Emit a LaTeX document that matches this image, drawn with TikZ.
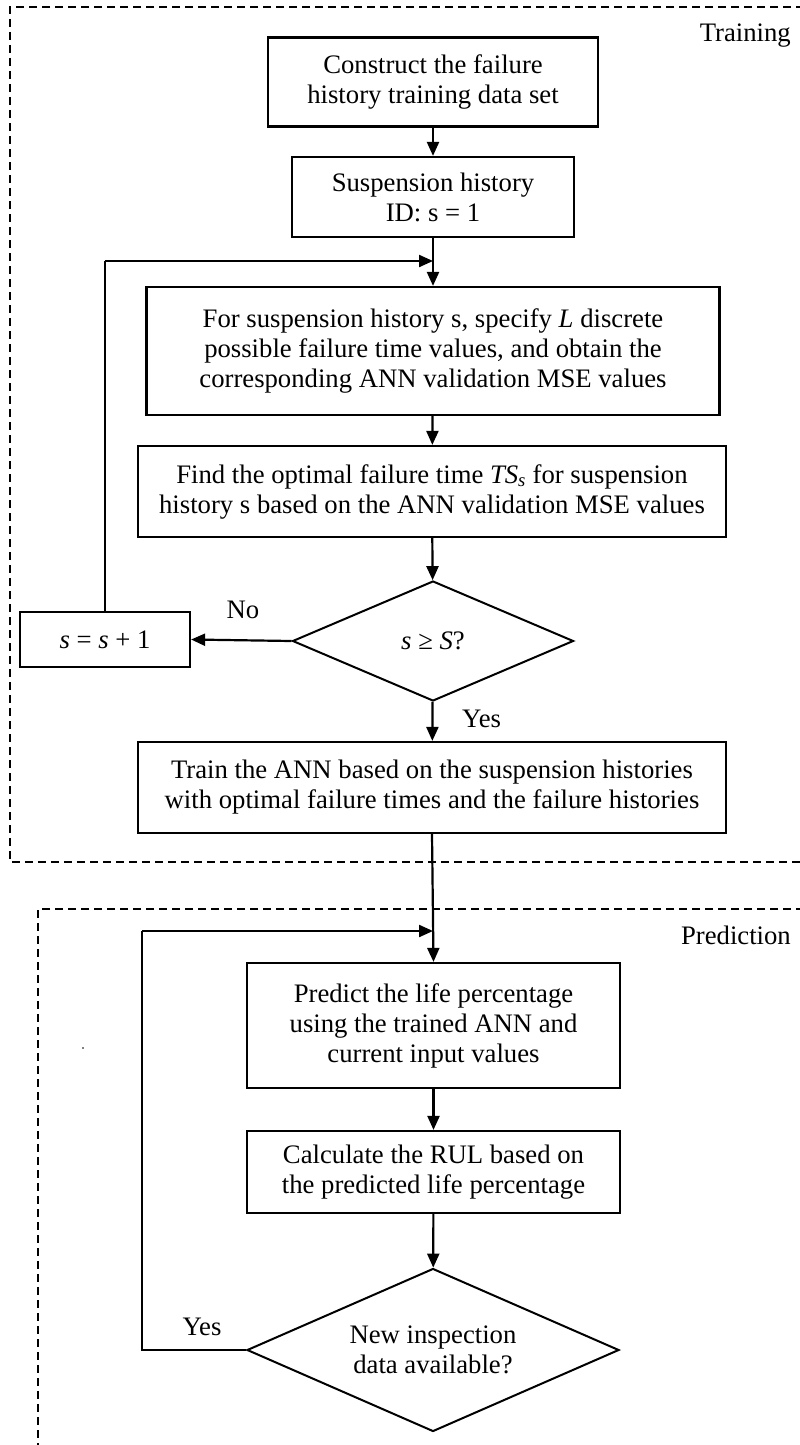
\documentclass[tikz,border=0pt]{standalone}
\usepackage{fontspec}
\setmainfont{Liberation Serif}
\usetikzlibrary{shapes.geometric,arrows.meta}

\begin{document}
\begin{tikzpicture}[x=1pt,y=-1pt,
  every node/.style={font=\fontsize{26.7}{30}\selectfont},
  box/.style={draw, line width=2.2pt, rectangle, align=center, inner sep=0pt},
  decision/.style={draw, line width=2pt, diamond, align=center, inner sep=0pt},
  flow/.style={line width=2.2pt, -{Triangle[length=14pt,width=12pt]}},
  link/.style={line width=2.2pt},
  frame/.style={line width=1.4pt, dash pattern=on 8pt off 5pt},
  tag/.style={inner sep=0pt}]

\useasboundingbox (0,0) rectangle (800,1445);
\clip (0,0) rectangle (800,1445);

% phase frames
\draw[frame] (830,7) -- (10,7) -- (10,862) -- (830,862);
\draw[frame] (830,909) -- (38,909) -- (38,1470);
\node[tag, anchor=east] (ttrain) at (791,36) {Training};
\node[tag, anchor=east] (tpred) at (791,935) {Prediction};

% training phase
\node[box, minimum width=330pt, minimum height=89pt] (b1) at (433,82)
  {Construct the failure\\history training data set};
\node[box, minimum width=282pt, minimum height=80pt] (b2) at (433,197)
  {Suspension history\\ID: s = 1};
\node[box, minimum width=573pt, minimum height=128pt] (b3) at (433,351)
  {For suspension history s, specify \textit{L} discrete\\possible failure time values, and obtain the\\corresponding ANN validation MSE values};
\node[box, minimum width=588pt, minimum height=91pt] (b4) at (432,491.5)
  {Find the optimal failure time \textit{TS}\textsubscript{\textit{s}} for suspension\\history s based on the ANN validation MSE values};
\node[decision, minimum width=281pt, minimum height=120pt, aspect=2.34] (d1) at (433,641)
  {\textit{s} ≥ \textit{S}?};
\node[box, minimum width=170pt, minimum height=55pt] (inc) at (105,639.5)
  {\textit{s} = \textit{s} + 1};
\node[box, minimum width=588pt, minimum height=91pt] (b5) at (432,787.5)
  {Train the ANN based on the suspension histories\\with optimal failure times and the failure histories};

% prediction phase
\node[box, minimum width=373pt, minimum height=125pt] (b6) at (433.5,1025.5)
  {Predict the life percentage\\using the trained ANN and\\current input values};
\node[box, minimum width=373pt, minimum height=82pt] (b7) at (433.5,1172)
  {Calculate the RUL based on\\the predicted life percentage};
\node[decision, minimum width=372pt, minimum height=163pt, aspect=2.28] (d2) at (433,1350)
  {New inspection\\data available?};

% junctions of the loops
\coordinate (j1) at (433,261);
\coordinate (k1) at (105,261);
\coordinate (j2) at (433,931);
\coordinate (k2) at (142,931);
\coordinate (k3) at (142,1350);

% connectors
\draw[flow] (b1) -- (b2);
\draw[flow] (b2) -- (b3);
\draw[flow] (b3) -- (b4);
\draw[flow] (b4) -- (d1);
\draw[flow] (d1) -- (b5);
\draw[flow] (d1.west) -- (inc.east);
\draw[link] (inc.north) -- (k1);
\draw[flow] (k1) -- (j1);
\draw[flow] (b5.south) -- (b6.north);
\draw[flow] (b6) -- (b7);
\draw[flow] (b7) -- (d2);
\draw[link] (d2.west) -- (k3) -- (k2);
\draw[flow] (k2) -- (j2);

% branch labels
\node[tag] (lno) at (243,610) {No};
\node[tag, anchor=west] (lyes1) at (462,719) {Yes};
\node[tag] (lyes2) at (202,1327) {Yes};

% stray mark
\fill (83,1048) circle (0.8pt);
\end{tikzpicture}
\end{document}
